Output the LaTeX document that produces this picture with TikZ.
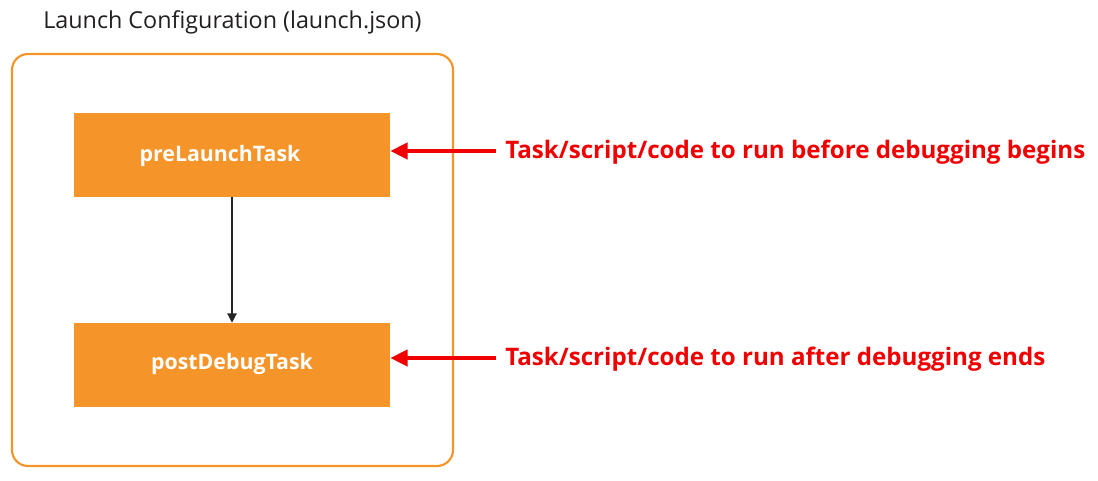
\documentclass[tikz,border=0pt]{standalone}
\usepackage{fontspec}
\setmainfont{Open Sans}
\usetikzlibrary{arrows.meta}
\definecolor{orng}{HTML}{F59428}
\definecolor{redc}{HTML}{F00000}
\definecolor{titlec}{HTML}{231F20}
\tikzset{
  taskbox/.style={fill=orng, draw=none, minimum width=316*0.75pt, minimum height=84*0.75pt, inner sep=0pt},
  tasktext/.style={text=white, font=\bfseries\fontsize{16}{19}\selectfont},
  redarrow/.style={draw=redc, line width=3.2pt, -{Triangle[length=13pt,width=12pt]}},
  redlabel/.style={text=redc, anchor=west, inner sep=0pt, font=\bfseries\fontsize{18.1}{21}\selectfont},
  flow/.style={draw=black!85, line width=0.9pt, -{Triangle[length=7pt,width=7pt]}}
}
\begin{document}
\begin{tikzpicture}[x=0.75pt,y=-0.75pt]
\useasboundingbox (0,0) rectangle (1098,481);
\node[anchor=west, inner sep=0pt, text=titlec, font=\fontsize{17.5}{20}\selectfont] (title) at (43,22) {Launch Configuration (launch.json)};
\draw[orng, line width=1.6pt, rounded corners=12pt] (12,54) rectangle (453,466);
\node[taskbox] (pre) at (232,155) {};
\node[tasktext] (pretext) at (220,156) {preLaunchTask};
\node[taskbox] (post) at (232,365) {};
\node[tasktext] (posttext) at (232,364) {postDebugTask};
\draw[flow] (pre.south) -- (post.north);
\node[redlabel] (l1) at (505,152) {Task/script/code to run before debugging begins};
\node[redlabel] (l2) at (505,359) {Task/script/code to run after debugging ends};
\coordinate (a1) at (496,151);
\coordinate (a2) at (496,358);
\draw[redarrow] (a1) -- (a1 -| pre.east);
\draw[redarrow] (a2) -- (a2 -| post.east);
\end{tikzpicture}
\end{document}
